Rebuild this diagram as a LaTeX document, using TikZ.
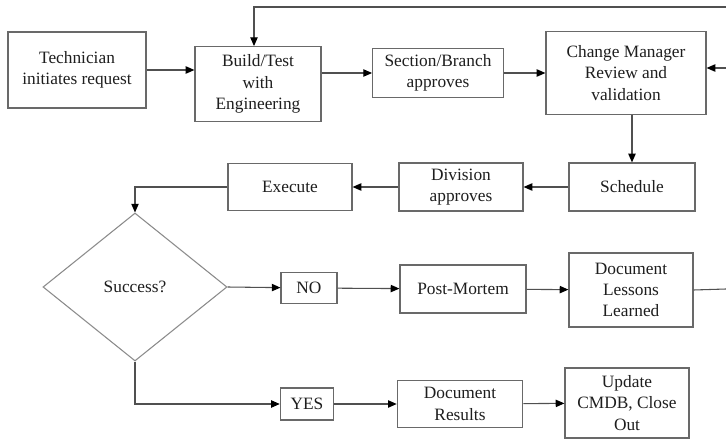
\documentclass[tikz,border=0pt]{standalone}
\usepackage{fontspec}
\setmainfont{Liberation Serif}
\usetikzlibrary{shapes.geometric,arrows.meta,positioning,calc}
\definecolor{LineGray}{RGB}{80,80,80}
\definecolor{EdgeGray}{RGB}{105,105,105}
\definecolor{DiaGray}{RGB}{140,140,140}
\definecolor{TextGray}{RGB}{30,30,30}
\tikzset{
  wbox/.style={draw=EdgeGray,fill=white,line width=0.9pt,inner sep=0pt,
               align=center,text=TextGray,font=\fontsize{13}{16}\selectfont},
  tbox/.style={draw=EdgeGray,fill=white,line width=0.8pt,inner sep=0pt,
               align=center,text=TextGray,font=\fontsize{13}{16}\selectfont},
  dbox/.style={draw=DiaGray,diamond,line width=0.8pt,inner sep=0pt,
               minimum width=138pt,minimum height=111pt,
               text=TextGray,font=\fontsize{13}{16}\selectfont},
  arr/.style={-{Triangle[length=6.5pt,width=5.5pt,color=black]},LineGray,line width=0.8pt},
  lin/.style={LineGray,line width=0.8pt},
}

\begin{document}
\begin{tikzpicture}[x=0.75pt,y=-0.75pt]
  \path[fill=white,use as bounding box] (0,0) rectangle (726,439);
  \node[wbox,minimum width=103.5pt,minimum height=57pt] (tech) at (77,70) {Technician\\initiates request};
  \node[wbox,minimum width=94.5pt,minimum height=56pt] (build) at (258,84) {Build/Test\\with\\Engineering};
  \node[wbox,minimum width=98pt,minimum height=37pt] (sec) at (438,73) {Section/Branch\\approves};
  \node[wbox,minimum width=120pt,minimum height=62pt] (chg) at (626,73) {Change Manager\\Review and\\validation};
  \node[wbox,minimum width=94.5pt,minimum height=36pt] (sched) at (632,187) {Schedule};
  \node[wbox,minimum width=93pt,minimum height=36pt] (div) at (461,187) {Division\\approves};
  \node[wbox,minimum width=93pt,minimum height=35pt] (exec) at (290,187) {Execute};
  \node[dbox] (succ) at (135,287) {Success?};
  \node[tbox,minimum width=42pt,minimum height=23pt] (no) at (309,288) {NO};
  \node[wbox,minimum width=94.5pt,minimum height=36pt] (post) at (463,289) {Post-Mortem};
  \node[wbox,minimum width=93pt,minimum height=55.5pt] (les) at (631,290) {Document\\Lessons\\Learned};
  \node[tbox,minimum width=40pt,minimum height=24pt] (yes) at (307,404) {YES};
  \node[wbox,minimum width=94pt,minimum height=35pt] (res) at (460,404) {Document\\Results};
  \node[wbox,minimum width=93pt,minimum height=52.5pt] (upd) at (627,403) {Update\\CMDB, Close\\Out};
  \coordinate (rtop) at (726,7);
  \coordinate (rchg) at (726,68);
  \coordinate (rles) at (726,289);
  \draw[arr] (tech.east) -- (tech.east -| build.west);
  \draw[arr] (sec.west -| build.east) -- (sec.west);
  \draw[arr] (sec.east) -- (sec.east -| chg.west);
  \draw[arr] (rchg) -- (rchg -| chg.east);
  \draw[arr] (rtop) -| ([xshift=-3pt]build.north);
  \draw[arr] (chg.south -| sched.north) -- (sched.north);
  \draw[arr] (sched) -- (div); \draw[arr] (div) -- (exec);
  \draw[arr] (exec.west) -| (succ.north);
  \draw[arr] (succ.east) -- (no); \draw[arr] (no) -- (post);
  \draw[arr] (post) -- (les); \draw[lin] (les.east) -- (rles);
  \draw[arr] (succ.south) |- (yes.west);
  \draw[arr] (yes) -- (res); \draw[arr] (res) -- (upd);
\end{tikzpicture}
\end{document}
